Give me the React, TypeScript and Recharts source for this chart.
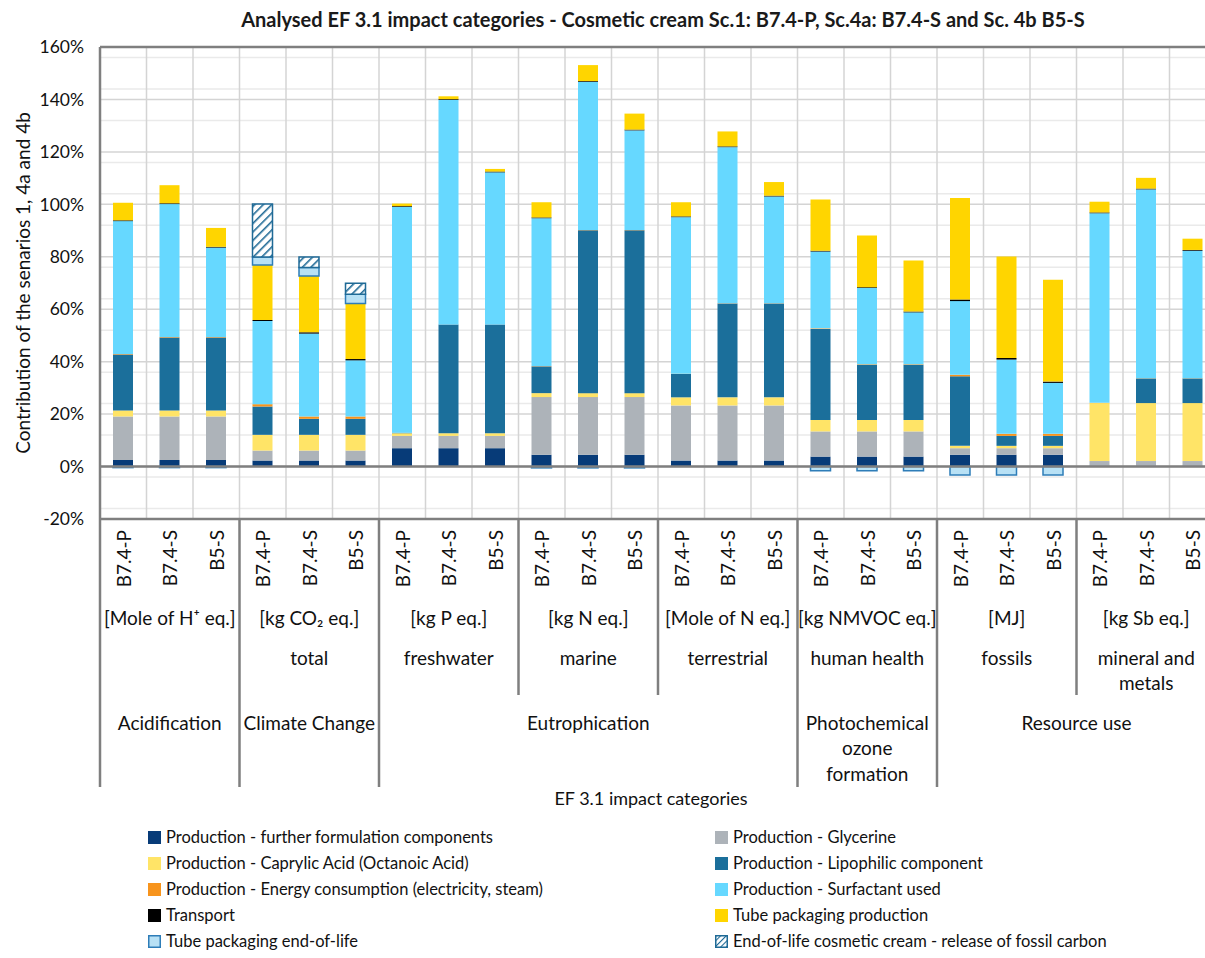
import React from 'react';
import { BarChart, Bar, XAxis, YAxis, CartesianGrid, ReferenceLine } from 'recharts';

// scenario per bar, 8 sub-categories x 3 scenarios
const scenarios = ['B7.4-P', 'B7.4-S', 'B5-S'];
const units = ['[Mole of H\u207A eq.]', '[kg CO\u2082 eq.]', '[kg P eq.]', '[kg N eq.]', '[Mole of N eq.]', '[kg NMVOC eq.]', '[MJ]', '[kg Sb eq.]'];
const subcats = [[''], ['total'], ['freshwater'], ['marine'], ['terrestrial'], ['human health'], ['fossils'], ['mineral and', 'metals']];
const groups = [['Acidification'], ['Climate Change'], ['Eutrophication'], ['Photochemical', 'ozone', 'formation'], ['Resource use']];
const groupSpans = [1, 1, 3, 1, 2]; // in sub-categories

// contributions in %
const further = [2.5, 2.5, 2.5, 2.3, 2.3, 2.3, 7.0, 7.0, 7.0, 4.5, 4.5, 4.5, 2.3, 2.3, 2.3, 3.8, 3.8, 3.8, 4.5, 4.5, 4.5, 0.3, 0.3, 0.3];
const glycerine = [16.6, 16.6, 16.6, 3.8, 3.8, 3.8, 4.7, 4.7, 4.7, 22.0, 22.0, 22.0, 21.0, 21.0, 21.0, 9.6, 9.6, 9.6, 2.5, 2.5, 2.5, 1.8, 1.8, 1.8];
const caprylic = [2.3, 2.3, 2.3, 6.0, 6.0, 6.0, 1.0, 1.0, 1.0, 1.5, 1.5, 1.5, 3.1, 3.1, 3.1, 4.4, 4.4, 4.4, 0.9, 0.9, 0.9, 22.1, 22.1, 22.1];
const lipophilic = [21.3, 27.8, 27.8, 10.8, 6.1, 6.1, 0.2, 41.5, 41.5, 10.2, 62.1, 62.1, 8.9, 35.8, 35.8, 34.7, 21.0, 21.0, 26.5, 3.8, 3.8, 0, 9.4, 9.4];
const energy = [0.2, 0.2, 0.2, 0.9, 0.9, 0.9, 0, 0, 0, 0.1, 0.1, 0.1, 0.1, 0.1, 0.1, 0.2, 0.2, 0.2, 0.6, 0.8, 0.8, 0.1, 0.1, 0.1];
const surfactant = [50.7, 50.7, 34.1, 31.7, 31.6, 21.4, 86.1, 85.6, 58.0, 56.4, 56.5, 38.0, 59.7, 59.5, 40.7, 29.3, 29.1, 19.8, 28.1, 28.3, 19.4, 72.3, 72.0, 48.6];
const transport = [0.3, 0.3, 0.3, 0.4, 0.5, 0.5, 0.3, 0.3, 0.3, 0.3, 0.3, 0.3, 0.3, 0.3, 0.3, 0.3, 0.3, 0.3, 0.6, 0.6, 0.5, 0.3, 0.3, 0.3];
const tubeProd = [6.7, 6.9, 7.2, 21.0, 21.5, 21.2, 1.0, 1.1, 1.0, 5.8, 6.1, 6.1, 5.4, 5.7, 5.2, 19.5, 19.7, 19.5, 38.7, 38.7, 38.8, 4.1, 4.1, 4.3];
const tubeEol = [-0.4, -0.4, -0.4, 3.0, 3.2, 3.5, 0, 0, 0, -0.5, -0.5, -0.5, 0, 0, 0, -1.6, -1.6, -1.6, -3.2, -3.2, -3.2, 0, 0, 0];
const eolCream = [0, 0, 0, 20.2, 4.0, 4.2, 0, 0, 0, 0, 0, 0, 0, 0, 0, 0, 0, 0, 0, 0, 0, 0, 0, 0];

const yTicks = [-20, 0, 20, 40, 60, 80, 100, 120, 140, 160];
const minorTicks = Array.from({ length: 46 }, (_, i) => -20 + i * 4).filter((v) => v % 20 !== 0);

const series = [
  { key: 'further', name: 'Production - further formulation components', color: '#073B78' },
  { key: 'glycerine', name: 'Production - Glycerine', color: '#ADB3B9' },
  { key: 'caprylic', name: 'Production - Caprylic Acid (Octanoic Acid)', color: '#FFE467' },
  { key: 'lipophilic', name: 'Production - Lipophilic component', color: '#1B6F9B' },
  { key: 'energy', name: 'Production - Energy consumption (electricity, steam)', color: '#F7941D' },
  { key: 'surfactant', name: 'Production - Surfactant used', color: '#66D8FF' },
  { key: 'transport', name: 'Transport', color: '#000000' },
  { key: 'tubeProd', name: 'Tube packaging production', color: '#FFD500' },
  { key: 'tubeEol', name: 'Tube packaging end-of-life', color: '#B8E1F5', stroke: '#2E7DB8' },
  { key: 'eolCream', name: 'End-of-life cosmetic cream - release of fossil carbon', color: 'url(#hatch)', stroke: '#1F6A96' },
];
const legendOrder = ['further', 'glycerine', 'caprylic', 'lipophilic', 'energy', 'surfactant', 'transport', 'tubeProd', 'tubeEol', 'eolCream'];

const data = further.map((_, i) => ({
  id: `c${i}`,
  further: further[i], glycerine: glycerine[i], caprylic: caprylic[i], lipophilic: lipophilic[i],
  energy: energy[i], surfactant: surfactant[i], transport: transport[i], tubeProd: tubeProd[i],
  tubeEol: tubeEol[i], eolCream: eolCream[i],
}));

const FONT = 'Lato, "Open Sans", sans-serif';
const TXT = '#111';
const AX = '#7F7F7F';
const CHART_W = 1240;
const LEFT = 100;
const PLOT_W = 1116;
const BAND = PLOT_W / 24;
const BOTTOM = 519;
const FS = 19;

const MultiTick = (props: any) => {
  const { x, index } = props;
  const els: any[] = [];
  els.push(
    <text key="s" transform={`translate(${x},530) rotate(-90)`} textAnchor="end" dominantBaseline="central"
      fontSize={FS} fill={TXT} fontFamily={FONT}>{scenarios[index % 3]}</text>
  );
  const sub = Math.floor(index / 3);
  if (index % 3 === 1) {
    els.push(<text key="u" x={x} y={617} textAnchor="middle" dominantBaseline="central" fontSize={FS} fill={TXT} fontFamily={FONT}>{units[sub]}</text>);
    subcats[sub].forEach((l, j) => els.push(
      <text key={'c' + j} x={x} y={657 + j * 25} textAnchor="middle" dominantBaseline="central" fontSize={FS} fill={TXT} fontFamily={FONT}>{l}</text>
    ));
  }
  if (index % 3 === 0) {
    // sub-category / group separators
    let acc = 0;
    let gi = -1;
    groupSpans.forEach((s, k) => { if (acc === sub) gi = k; acc += s; });
    const lx = x - BAND / 2;
    els.push(<line key="sep" x1={lx} x2={lx} y1={BOTTOM} y2={gi >= 0 ? 787 : 695} stroke={AX} strokeWidth={2.5} />);
    if (gi >= 0) {
      const cx = lx + (groupSpans[gi] * 3 * BAND) / 2;
      groups[gi].forEach((l, j) => els.push(
        <text key={'g' + j} x={cx} y={722 + j * 25.5} textAnchor="middle" dominantBaseline="central" fontSize={FS} fill={TXT} fontFamily={FONT}>{l}</text>
      ));
    }
  }
  return <g>{els}</g>;
};

const Swatch = ({ s }: { s: any }) => (
  <svg width={13} height={13} style={{ marginRight: 5, flex: 'none' }}>
    <defs>
      <pattern id="hatchL" patternUnits="userSpaceOnUse" width="4" height="4" patternTransform="rotate(45)">
        <rect width="4" height="4" fill="#fff" />
        <line x1="0" y1="0" x2="0" y2="4" stroke="#1F6A96" strokeWidth="2.2" />
      </pattern>
    </defs>
    <rect x={s.stroke ? 0.75 : 0} y={s.stroke ? 0.75 : 0} width={s.stroke ? 11.5 : 13} height={s.stroke ? 11.5 : 13}
      fill={s.key === 'eolCream' ? 'url(#hatchL)' : s.color} stroke={s.stroke || 'none'} strokeWidth={1.5} />
  </svg>
);

export default function App() {
  return (
    <div style={{ position: 'fixed', left: 0, top: 0, width: 1205, height: 958, overflow: 'hidden', background: '#fff', fontFamily: FONT }}>
      <div style={{ position: 'absolute', left: 0, top: 7, width: 1326, textAlign: 'center', fontWeight: 700, fontSize: 20, color: '#1a1a1a' }}>
        Analysed EF 3.1 impact categories - Cosmetic cream Sc.1: B7.4-P, Sc.4a: B7.4-S and Sc. 4b B5-S
      </div>
      <div style={{ position: 'absolute', left: 0, top: 0 }}>
        <BarChart width={CHART_W} height={810} data={data} stackOffset="sign" barSize={20}
          margin={{ top: 47, right: CHART_W - LEFT - PLOT_W, left: 0, bottom: 0 }}>
          <defs>
            <pattern id="hatch" patternUnits="userSpaceOnUse" width="6" height="6" patternTransform="rotate(45)">
              <rect width="6" height="6" fill="#fff" />
              <line x1="0" y1="0" x2="0" y2="6" stroke="#1F6A96" strokeWidth="3.2" />
            </pattern>
          </defs>
          <CartesianGrid horizontalValues={minorTicks} vertical={false} stroke="#EAEAEA" strokeWidth={1.5} />
          <CartesianGrid horizontalValues={yTicks} stroke="#D4D4D4" strokeWidth={1.5}
            verticalCoordinatesGenerator={({ offset }: any) => Array.from({ length: 23 }, (_, i) => offset.left + (i + 1) * offset.width / 24)} />
          <XAxis dataKey="id" interval={0} height={291} tickLine={false} axisLine={{ stroke: AX, strokeWidth: 2.5 }}
            tick={<MultiTick />}
            label={{ content: () => <text x={651} y={798} textAnchor="middle" dominantBaseline="central" fontSize={18} fill={TXT} fontFamily={FONT}>EF 3.1 impact categories</text> }} />
          <YAxis width={LEFT} domain={[-20, 160]} ticks={yTicks} allowDataOverflow tickLine={false} tickSize={0} tickMargin={16}
            axisLine={{ stroke: AX, strokeWidth: 2.5 }}
            tickFormatter={(v: number) => `${v}%`}
            tick={{ fontSize: 17.5, fill: TXT, fontFamily: FONT }}
            label={{ content: () => <text x={22} y={283} transform="rotate(-90, 22, 283)" textAnchor="middle" dominantBaseline="central" fontSize={FS} fill={TXT} fontFamily={FONT}>Contribution of the senarios 1, 4a and 4b</text> }} />
          <ReferenceLine y={160} stroke={AX} strokeWidth={2.5} />
          {series.map((s) => (
            <Bar key={s.key} dataKey={s.key} name={s.name} stackId="a" fill={s.color}
              stroke={s.stroke} strokeWidth={s.stroke ? 1.5 : 0} isAnimationActive={false} />
          ))}
          <ReferenceLine y={0} stroke={AX} strokeWidth={2.5} />
        </BarChart>
      </div>
      <div style={{ position: 'absolute', left: 148, top: 824, display: 'grid', gridTemplateColumns: '567px 500px', rowGap: 0, fontSize: 16.5, color: TXT }}>
        {legendOrder.map((k) => {
          const s = series.find((q) => q.key === k)!;
          return (
            <div key={k} style={{ display: 'flex', alignItems: 'center', height: 26, whiteSpace: 'nowrap' }}>
              <Swatch s={s} />{s.name}
            </div>
          );
        })}
      </div>
    </div>
  );
}
